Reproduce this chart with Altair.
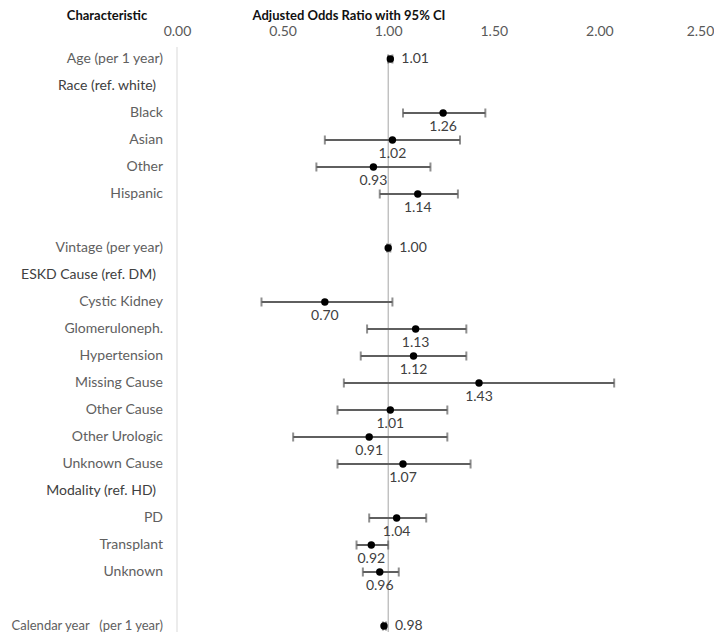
import altair as alt
import pandas as pd

labels = [
    "Age (per 1 year)", "Race (ref. white)", "Black", "Asian", "Other", "Hispanic", "",
    "Vintage (per year)", "ESKD Cause (ref. DM)", "Cystic Kidney", "Glomeruloneph.",
    "Hypertension", "Missing Cause", "Other Cause", "Other Urologic", "Unknown Cause",
    "Modality (ref. HD)", "PD", "Transplant", "Unknown", "",
    "Calendar year\u00a0\u00a0 (per 1 year)",
]
kinds = [
    "cont", "header", "level", "level", "level", "level", "blank",
    "cont", "header", "level", "level",
    "level", "level", "level", "level", "level",
    "header", "level", "level", "level", "blank",
    "cont",
]
odds = [1.01, None, 1.26, 1.02, 0.93, 1.14, None,
        1.00, None, 0.70, 1.13,
        1.12, 1.43, 1.01, 0.91, 1.07,
        None, 1.04, 0.92, 0.96, None,
        0.98]
ci_low = [1.00, None, 1.07, 0.70, 0.66, 0.96, None,
          0.995, None, 0.40, 0.90,
          0.87, 0.79, 0.76, 0.55, 0.76,
          None, 0.91, 0.85, 0.88, None,
          0.975]
ci_high = [1.02, None, 1.46, 1.34, 1.20, 1.33, None,
           1.01, None, 1.02, 1.37,
           1.37, 2.07, 1.28, 1.28, 1.39,
           None, 1.18, 1.00, 1.05, None,
           0.99]
x_ticks = [0.0, 0.5, 1.0, 1.5, 2.0, 2.5]
titles = ["Characteristic", "Adjusted Odds Ratio with 95% CI"]

df = pd.DataFrame({
    "row": list(range(len(labels))),
    "label": labels,
    "kind": kinds,
    "or": odds,
    "lo": ci_low,
    "hi": ci_high,
})
single = pd.DataFrame({"t": titles[:1]})
single2 = pd.DataFrame({"t": titles[1:]})

FONT = "Lato"
GRAY = "#5f5f5f"

xscale = alt.Scale(domain=[0, 2.5], nice=False, zero=False)
yscale = alt.Scale(domain=[-0.444, 21.222], reverse=True, nice=False, zero=False)
Y = alt.Y("row:Q", scale=yscale, axis=None)

base = alt.Chart(df)
est = base.transform_filter("isValid(datum.or)")

zero_line = alt.Chart(single).mark_rule(color="#d9d9d9", strokeWidth=1).encode(
    x=alt.datum(0)
)
one_line = alt.Chart(single).mark_rule(color="#a6a6a6", strokeWidth=1).encode(
    x=alt.datum(1), y=alt.value(8), y2=alt.value(585)
)

bars = est.mark_rule(color=GRAY, strokeWidth=2).encode(
    x=alt.X("lo:Q", scale=xscale, title=None,
            axis=alt.Axis(orient="top", values=x_ticks, format=".2f", ticks=False,
                          domain=False, grid=False, labelColor="#595959", labelFlush=False,
                          labelOffset={"condition": {"test": "datum.value >= 2.5", "value": -5},
                                       "value": 0},
                          labelFont=FONT, labelFontSize=14, labelPadding=9)),
    x2="hi:Q",
    y=Y,
)
cap_lo = est.mark_tick(orient="vertical", size=9, thickness=2, color=GRAY).encode(
    x=alt.X("lo:Q", title=None), y=Y
)
cap_hi = est.mark_tick(orient="vertical", size=9, thickness=2, color=GRAY).encode(
    x=alt.X("hi:Q", title=None), y=Y
)
points = est.mark_circle(size=55, color="black", opacity=1).encode(
    x=alt.X("or:Q", title=None), y=Y
)

val_below = est.transform_filter("datum.kind == 'level'").mark_text(
    font=FONT, fontSize=14, color="#404040", baseline="middle", dy=14
).encode(x=alt.X("or:Q", title=None), y=Y, text=alt.Text("or:Q", format=".2f"))

val_right = est.transform_filter("datum.kind == 'cont'").mark_text(
    font=FONT, fontSize=14, color="#404040", baseline="middle", align="left", dx=11
).encode(x=alt.X("or:Q", title=None), y=Y, text=alt.Text("or:Q", format=".2f"))

item_labels = base.transform_filter(
    "(datum.kind == 'level' || datum.kind == 'cont') && indexof(datum.label, 'Calendar') != 0"
).mark_text(
    font=FONT, fontSize=14, color="#606060", align="right", baseline="middle"
).encode(x=alt.value(-14), y=Y, text="label:N")

calendar_label = base.transform_filter(
    "indexof(datum.label, 'Calendar') == 0"
).mark_text(
    font=FONT, fontSize=13, color="#606060", align="right", baseline="middle"
).encode(x=alt.value(-14), y=Y, text="label:N")

head_labels = base.transform_filter("datum.kind == 'header'").mark_text(
    font=FONT, fontSize=14, color="#404040", align="right", baseline="middle"
).encode(x=alt.value(-21), y=Y, text="label:N")

title_left = alt.Chart(single).mark_text(
    font=FONT, fontSize=13, fontWeight="bold",
    color="#111111", align="center", baseline="middle"
).encode(x=alt.value(-70), y=alt.value(-31), text="t:N")

title_right = alt.Chart(single2).mark_text(
    font=FONT, fontSize=13, fontWeight="bold",
    color="#111111", align="center", baseline="middle"
).encode(x=alt.value(172), y=alt.value(-31), text="t:N")

chart = alt.layer(
    zero_line, one_line, bars, cap_lo, cap_hi, points,
    val_below, val_right, item_labels, calendar_label, head_labels,
    title_left, title_right,
).properties(
    width=528,
    height=585,
    padding={"left": 169, "top": 39, "right": 9, "bottom": 0},
    autosize=alt.AutoSizeParams(type="none"),
).configure_view(stroke=None)

chart.save("out.html", embed_options={"renderer": "svg", "actions": False})
